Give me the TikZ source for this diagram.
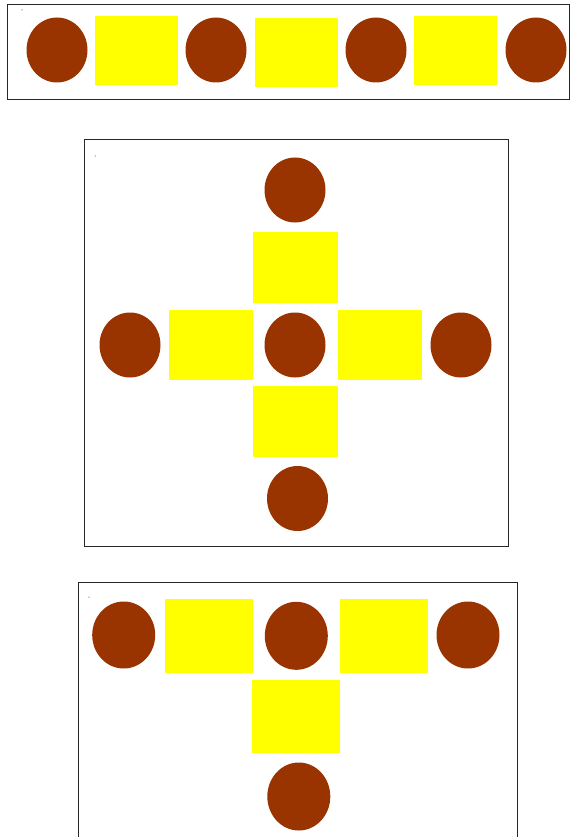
\documentclass[tikz,border=0pt]{standalone}
\usepackage{tikz}
\usetikzlibrary{shapes.geometric}
\definecolor{figBrown}{RGB}{153,51,0}
\definecolor{figYellow}{RGB}{255,255,0}
\tikzset{
  frame/.style={draw=black!85, line width=1pt},
  disc/.style={ellipse, fill=figBrown, inner sep=0pt, minimum width=61pt, minimum height=65pt},
  tile/.style={rectangle, fill=figYellow, inner sep=0pt, minimum width=84pt, minimum height=70pt},
  speck/.style={circle, fill=black, inner sep=0pt, minimum size=1pt}
}
\begin{document}
\begin{tikzpicture}[x=1pt, y=-1pt]
\clip (0,0) rectangle (570,837);
% ======== TOP: one row ========
\begin{scope}
\draw[frame] (7.5,5) rectangle (569.5,100);
\node[speck] (dotA) at (22,10) {};
\node[disc] (a1) at (57,50) {};
\node[tile, minimum width=83pt, minimum height=69pt] (sa1) at (136.5,50.5) {};
\node[disc] (a2) at (216,50) {};
\node[tile, minimum width=83pt, minimum height=69pt] (sa2) at (296.5,52.5) {};
\node[disc] (a3) at (376,50) {};
\node[tile, minimum width=83pt, minimum height=69pt] (sa3) at (455.5,50.5) {};
\node[disc] (a4) at (536,50) {};
\end{scope}
% ======== MIDDLE: cross ========
\begin{scope}
\draw[frame] (84,140) rectangle (508,546);
\node[speck] (dotB) at (95,156) {};
\node[disc] (bN) at (295,190) {};
\node[tile, minimum width=85pt, minimum height=71pt] (sbN) at (295.5,267.5) {};
\node[disc] (bW) at (130,345) {};
\node[tile, minimum height=70pt] (sbW) at (211,345) {};
\node[disc] (bC) at (295,345) {};
\node[tile, minimum height=70pt] (sbE) at (379.5,345) {};
\node[disc] (bE) at (461,345) {};
\node[tile, minimum width=85pt, minimum height=71pt] (sbS) at (295.5,421.5) {};
\node[disc] (bS) at (297.5,498.5) {};
\end{scope}
% ======== BOTTOM: T shape ========
\begin{scope}
\draw[frame] (78,582) rectangle (517,860);
\node[speck] (dotC) at (89,597) {};
\node[disc, minimum width=63pt, minimum height=67pt] (c1) at (123.7,635) {};
\node[tile, minimum width=88pt, minimum height=74pt] (sc1) at (209,636) {};
\node[disc, minimum width=63pt, minimum height=68pt] (c2) at (296.3,635.8) {};
\node[tile, minimum width=88pt, minimum height=74pt] (sc2) at (384,636) {};
\node[disc, minimum width=63pt, minimum height=67pt] (c3) at (468,635) {};
\node[tile, minimum width=88pt, minimum height=73pt] (sc3) at (296,716.5) {};
\node[disc, minimum width=63pt, minimum height=68pt] (c4) at (298.8,796.5) {};
\end{scope}
\end{tikzpicture}
\end{document}
